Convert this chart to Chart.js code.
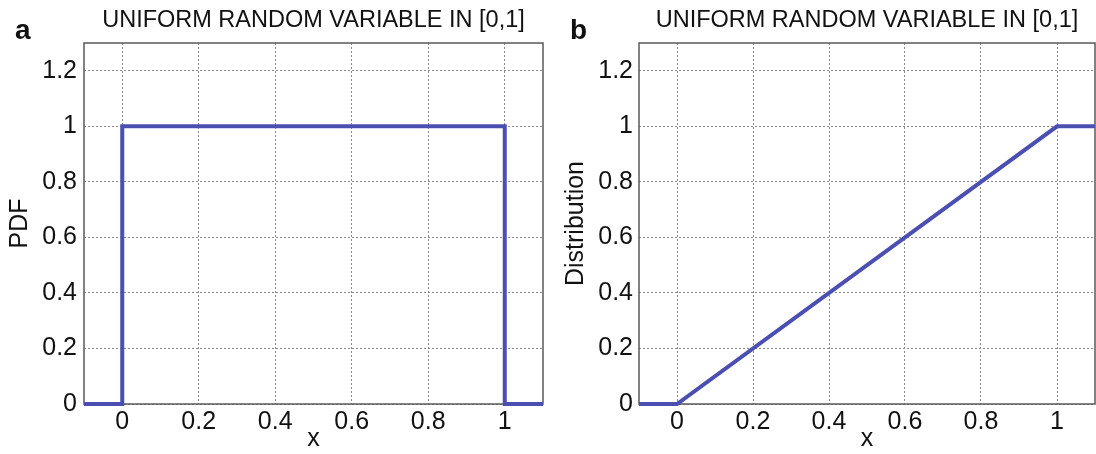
<!doctype html>
<html>

<head>
	<title>Uniform random variable</title>
	<script src="https://cdn.jsdelivr.net/npm/chart.js@4"></script>
	<style>
		body {
			margin: 0;
			background: #fff;
		}

		canvas {
			position: absolute;
			top: 0;
		}
	</style>
</head>

<body>
	<canvas id="pdf" width="548" height="454" style="left:0"></canvas>
	<canvas id="cdf" width="548" height="454" style="left:548px"></canvas>
	<script>
		var TITLE = 'UNIFORM RANDOM VARIABLE IN [0,1]';
		var xTicks = [0, 0.2, 0.4, 0.6, 0.8, 1];
		var yTicks = [0, 0.2, 0.4, 0.6, 0.8, 1, 1.2];
		var pdfX = [-0.1, 0, 0, 1, 1, 1.1];
		var pdfY = [0, 0, 1, 1, 0, 0];
		var cdfX = [-0.1, 0, 1, 1.1];
		var cdfY = [0, 0, 1, 1];

		var FONT = 'Liberation Sans';
		var LINE = '#4b4fb2';

		// box round the plot area and the panel letter
		var frame = {
			id: 'frame',
			beforeDatasetsDraw: function(chart) {
				var a = chart.chartArea;
				var ctx = chart.ctx;
				ctx.save();
				ctx.strokeStyle = '#5a5a5a';
				ctx.lineWidth = 1.5;
				ctx.strokeRect(a.left, a.top, a.right - a.left, a.bottom - a.top);
				ctx.restore();
			},
			afterDraw: function(chart, args, opts) {
				var ctx = chart.ctx;
				ctx.save();
				ctx.font = 'bold 28px ' + FONT;
				ctx.fillStyle = '#111';
				ctx.textBaseline = 'alphabetic';
				ctx.fillText(opts.letter, opts.x, 39);
				ctx.restore();
			}
		};

		function points(xs, ys) {
			return xs.map(function(x, i) {
				return {x: x, y: ys[i]};
			});
		}

		function makeChart(id, xs, ys, yTitle, p) {
			return new Chart(id, {
				type: 'line',
				data: {
					datasets: [{
						data: points(xs, ys),
						borderColor: LINE,
						borderWidth: 4,
						pointRadius: 0,
						tension: 0,
						clip: false
					}]
				},
				plugins: [frame],
				options: {
					responsive: false,
					animation: false,
					devicePixelRatio: 1,
					layout: {
						padding: {left: 0, right: p.right, top: 0, bottom: 0}
					},
					plugins: {
						legend: {display: false},
						tooltip: {enabled: false},
						title: {
							display: true,
							text: TITLE,
							fullSize: false,
							color: '#111',
							font: {family: FONT, size: 23.5, weight: 'normal'},
							padding: {top: 6.5, bottom: 8.3}
						},
						frame: {letter: p.letter, x: p.letterX}
					},
					scales: {
						x: {
							type: 'linear',
							min: -0.1,
							max: 1.1,
							afterBuildTicks: function(scale) {
								scale.ticks = xTicks.map(function(v) {
									return {value: v};
								});
							},
							afterFit: function(scale) {
								scale.height = 50;
							},
							grid: {color: '#8a8a8a', lineWidth: 1, drawTicks: false},
							border: {display: false, dash: [2, 2]},
							ticks: {
								padding: 3,
								color: '#111',
								maxRotation: 0,
								autoSkip: false,
								font: {family: FONT, size: 25},
								callback: function(v) {
									return String(v);
								}
							},
							title: {
								display: true,
								text: 'x',
								color: '#111',
								font: {family: FONT, size: 25},
								padding: {top: 0, bottom: 0}
							}
						},
						y: {
							type: 'linear',
							min: 0,
							max: 1.3,
							afterBuildTicks: function(scale) {
								scale.ticks = yTicks.map(function(v) {
									return {value: v};
								});
							},
							afterFit: function(scale) {
								scale.width = p.axisWidth;
							},
							grid: {color: '#8a8a8a', lineWidth: 1, drawTicks: false},
							border: {display: false, dash: [2, 2]},
							ticks: {
								padding: p.tickPad,
								color: '#111',
								autoSkip: false,
								font: {family: FONT, size: 25},
								callback: function(v) {
									return String(v);
								}
							},
							title: {
								display: true,
								text: yTitle,
								color: '#111',
								font: {family: FONT, size: 25},
								padding: {top: p.titlePad, bottom: 0}
							}
						}
					}
				}
			});
		}

		window.onload = function() {
			window.pdfChart = makeChart('pdf', pdfX, pdfY, 'PDF', {
				right: 5, axisWidth: 84, tickPad: 7, titlePad: 5, letter: 'a', letterX: 15
			});
			window.cdfChart = makeChart('cdf', cdfX, cdfY, 'Distribution', {
				right: 1, axisWidth: 91, tickPad: 6, titlePad: 13, letter: 'b', letterX: 22
			});
		};
	</script>
</body>

</html>
